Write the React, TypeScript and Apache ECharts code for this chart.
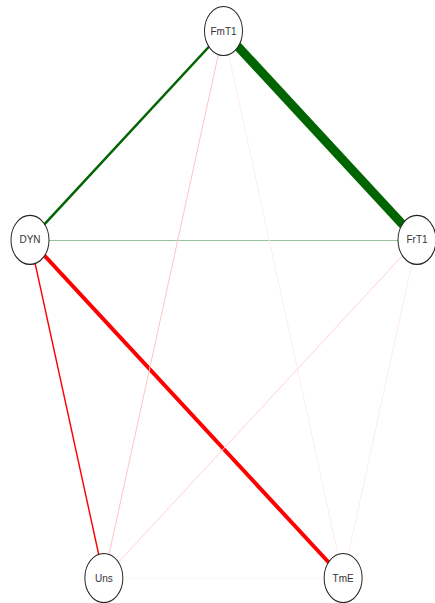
import React, { useEffect, useRef } from "react";
import * as echarts from "echarts";

// Node names and layout (circle layout coordinates)
const nodeNames = ["FmT1", "FrT1", "TmE", "Uns", "DYN"];
const nodeX = [0, 0.951, 0.588, -0.588, -0.951];
const nodeY = [1, 0.309, -0.809, -0.809, 0.309];

// Edges (source, target, weight)
const edgeSource = ["FmT1", "FmT1", "DYN", "DYN", "DYN", "FmT1", "FmT1", "FrT1", "FrT1", "Uns"];
const edgeTarget = ["FrT1", "DYN", "FrT1", "TmE", "Uns", "Uns", "TmE", "Uns", "TmE", "TmE"];
const edgeWeight = [0.5, 0.14, 0.028, -0.22, -0.08, -0.016, -0.005, -0.012, -0.005, -0.003];

function blend(hex: string, a: number): string {
  const r = parseInt(hex.slice(1, 3), 16);
  const g = parseInt(hex.slice(3, 5), 16);
  const b = parseInt(hex.slice(5, 7), 16);
  const m = (c: number) => Math.round(255 * (1 - a) + c * a);
  return `rgb(${m(r)},${m(g)},${m(b)})`;
}

export default function App() {
  const ref = useRef<HTMLDivElement>(null);
  useEffect(() => {
    if (!ref.current) return;
    const chart = echarts.init(ref.current, undefined, { renderer: "svg" });
    const nodes = nodeNames.map((n, i) => ({ name: n, value: [nodeX[i], nodeY[i]] }));
    const links = edgeSource.map((s, i) => {
      const w = edgeWeight[i];
      const a = Math.min(1, Math.abs(w) / 0.07);
      const base = w > 0 ? "#006400" : Math.abs(w) < 0.004 ? "#909090" : "#ff0000";
      return {
        source: s,
        target: edgeTarget[i],
        lineStyle: {
          color: blend(base, Math.max(a, 0.05)),
          width: Math.max(1, Math.abs(w) * 18),
          opacity: 1,
          curveness: 0,
        },
      };
    });
    chart.setOption({
      animation: false,
      backgroundColor: "#ffffff",
      grid: { left: 30, right: 18, top: 31, bottom: 25 },
      xAxis: { type: "value", min: -0.951, max: 0.951, show: false },
      yAxis: { type: "value", min: -0.809, max: 1, show: false },
      series: [
        {
          type: "graph",
          coordinateSystem: "cartesian2d",
          symbol: "path://M0,-1A1,1 0 1,1 0,1A1,1 0 1,1 0,-1Z",
          symbolSize: [38, 49],
          itemStyle: { color: "#ffffff", borderColor: "#222222", borderWidth: 1.1 },
          label: {
            show: true,
            position: "inside",
            color: "#333333",
            fontSize: 10,
            fontFamily: "Liberation Sans, Arial, sans-serif",
          },
          emphasis: { disabled: true },
          data: nodes,
          links: links,
          z: 2,
        },
      ],
    });
    return () => chart.dispose();
  }, []);
  return (
    <div
      ref={ref}
      style={{ position: "fixed", left: 0, top: 0, width: 435, height: 603, background: "#fff" }}
    />
  );
}
